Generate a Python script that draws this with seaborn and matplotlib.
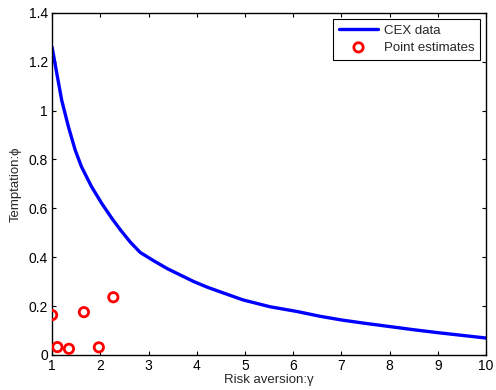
import numpy as np
import pandas as pd
import matplotlib
matplotlib.use("Agg")
import matplotlib.pyplot as plt
import seaborn as sns

# CEX data curve
gamma_cex = [1.0, 1.10, 1.20, 1.34, 1.48, 1.61, 1.82, 2.03, 2.24, 2.42, 2.62,
             2.83, 3.11, 3.39, 3.66, 3.94, 4.22, 4.46, 4.96, 5.52, 6.07, 6.56,
             7.0, 7.5, 8.0, 8.5, 9.0, 9.5, 10.0]
phi_cex = [1.26, 1.15, 1.042, 0.933, 0.838, 0.77, 0.688, 0.62, 0.559, 0.511, 0.462,
           0.419, 0.385, 0.353, 0.327, 0.30, 0.277, 0.26, 0.225, 0.197, 0.178, 0.158,
           0.143, 0.129, 0.116, 0.103, 0.091, 0.08, 0.069]

# point estimates
gamma_pts = [1.0, 1.11, 1.35, 1.66, 1.97, 2.27]
phi_pts = [0.163, 0.032, 0.025, 0.175, 0.031, 0.236]

sns.set_style("ticks")
plt.rcParams['font.family'] = ['Liberation Sans', 'DejaVu Sans']
plt.rcParams['font.size'] = 10
plt.rcParams['xtick.direction'] = 'in'
plt.rcParams['ytick.direction'] = 'in'

fig = plt.figure(figsize=(4.96, 3.90), dpi=100)
ax = fig.add_axes([0.105, 0.09, 0.875, 0.877])

cex = pd.DataFrame({'gamma': gamma_cex, 'phi': phi_cex})
pts = pd.DataFrame({'gamma': gamma_pts, 'phi': phi_pts})

sns.lineplot(data=cex, x='gamma', y='phi', ax=ax, color='#0000ff', lw=2.4,
             label='CEX data')
sns.scatterplot(data=pts, x='gamma', y='phi', ax=ax, marker='o', s=45,
                facecolors='none', edgecolor='#ff0000', linewidth=2,
                label='Point estimates', zorder=3)

ax.set_xlim(1, 10)
ax.set_ylim(0, 1.4)
ax.set_xticks(range(1, 11))
ax.set_yticks([0, 0.2, 0.4, 0.6, 0.8, 1, 1.2, 1.4])
ax.set_yticklabels(['0', '0.2', '0.4', '0.6', '0.8', '1', '1.2', '1.4'])
ax.tick_params(top=True, right=True, length=3, width=0.8, colors='black',
               labelsize=10, pad=3)
for s in ax.spines.values():
    s.set_visible(True)
    s.set_linewidth(1.0)
    s.set_color('black')

ax.set_xlabel('Risk aversion:γ', fontsize=9.5, labelpad=1)
ax.set_ylabel('Temptation:ϕ', fontsize=9.5, labelpad=5)

leg = ax.legend(loc='upper right', fontsize=9.5, fancybox=False, framealpha=1,
                edgecolor='black', borderaxespad=0.45, handlelength=3.0,
                borderpad=0.45, labelspacing=0.35, handletextpad=0.4)
leg.get_frame().set_linewidth(0.8)

fig.savefig('out.png', dpi=100)
